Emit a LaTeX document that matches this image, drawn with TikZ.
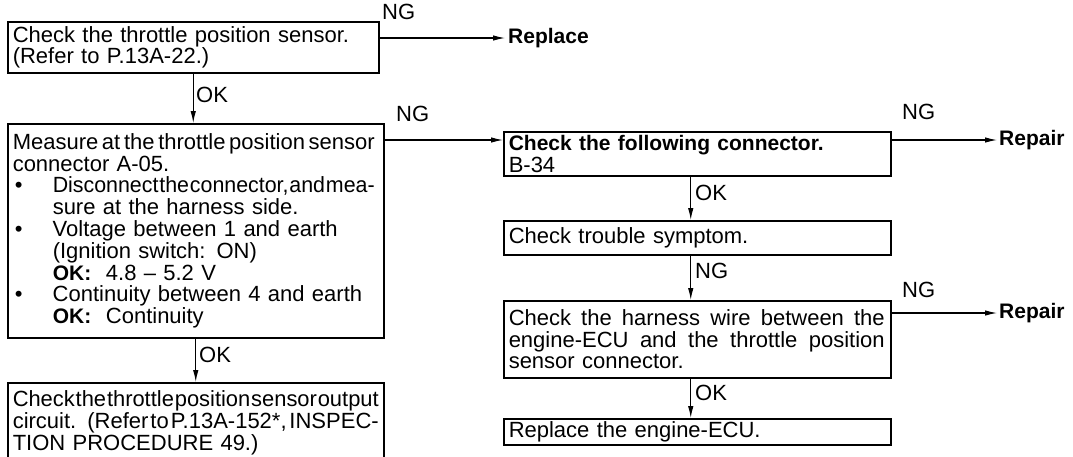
\documentclass[tikz,border=0pt]{standalone}
\usepackage{fontspec}
\usepackage{graphicx}
\setmainfont{Liberation Sans}
\usetikzlibrary{arrows.meta}
\newsavebox\jlbox
% justified line of given width: stretch spaces, or compress if too long
\newcommand{\jl}[2]{\leavevmode\sbox\jlbox{\spaceskip=.04em\relax #2}%
  \ifdim\wd\jlbox>#1\relax\resizebox{#1}{\height}{\usebox\jlbox}%
  \else\hbox to #1{\spaceskip=.278em plus 1fil minus .24em\relax #2}\fi}
\newcommand{\bul}{\makebox[40pt][l]{\hspace{2pt}\textbullet}}
\newcommand{\bfx}{\fontsize{21}{21.5}\selectfont\bfseries}
\begin{document}
\begin{tikzpicture}[x=1pt,y=-1pt,
  every node/.style={font=\fontsize{22}{21.8}\selectfont},
  box/.style={draw,line width=1.5pt,anchor=north west,inner xsep=5pt,inner ysep=0pt,align=left},
  arr/.style={line width=1.1pt,-{Latex[length=12pt,width=5.5pt]}},
  lab/.style={anchor=west,inner sep=1pt}]
\useasboundingbox (0,0) rectangle (1073,456);
\node[box,minimum width=371pt,minimum height=51pt,text width=361pt] (b1) at (7,21)
  {Check the throttle position sensor.\\(Refer to P.13A-22.)};
\node[box,minimum width=376pt,minimum height=214pt,text width=366pt] (b2) at (7,123)
  {\jl{362pt}{Measure at the throttle position sensor}\\
   connector A-05.\\
   \bul\jl{322pt}{Disconnect the connector, and mea-}\\
   \hspace{40pt}sure at the harness side.\\
   \bul Voltage between 1 and earth\\
   \hspace{40pt}(Ignition switch: ON)\\
   \hspace{40pt}{\bfx OK:}\ \ 4.8 -- 5.2 V\\
   \bul Continuity between 4 and earth\\
   \hspace{40pt}{\bfx OK:}\ \ Continuity\\[4pt]};
\node[box,minimum width=376pt,minimum height=80pt,text width=366pt] (b3) at (7,382)
  {\jl{366pt}{Check the throttle position sensor output}\\
   \jl{366pt}{circuit. (Refer to P.13A-152*, INSPEC-}\\
   TION PROCEDURE 49.)\\[7pt]};
\node[box,minimum width=387pt,minimum height=44pt,text width=377pt] (b4) at (503,131)
  {{\bfx Check the following connector.}\\B-34};
\node[box,minimum width=387pt,minimum height=34pt,text width=377pt] (b5) at (503,220)
  {Check trouble symptom.};
\node[box,minimum width=387pt,minimum height=77pt,text width=377pt] (b6) at (503,300)
  {\jl{376pt}{Check the harness wire between the}\\
   \jl{376pt}{engine-ECU and the throttle position}\\
   sensor connector.};
\node[box,minimum width=387pt,minimum height=26pt,text width=377pt] (b7) at (503,418)
  {Replace the engine-ECU.};
\node[lab,inner sep=3pt] (rep0) at (505,38) {\bfx Replace};
\node[lab,inner sep=2pt] (rep1) at (997,140) {\bfx Repair};
\node[lab,inner sep=2pt] (rep2) at (997,313) {\bfx Repair};
\draw[arr] ([yshift=-17pt]b1.north east) -- (rep0.west);
\draw[arr] (b1.south) -- (b1.south |- b2.north);
\draw[arr] (b2.south) -- (b2.south |- b3.north);
\draw[arr] ([yshift=-17pt]b2.north east) -- ([yshift=-9pt]b4.north west);
\draw[arr] ([yshift=-9pt]b4.north east) -- (rep1.west);
\draw[arr] ([xshift=-6.5pt]b4.south) -- ([xshift=-6.5pt]b5.north);
\draw[arr] ([xshift=-6.5pt]b5.south) -- ([xshift=-6.5pt]b6.north);
\draw[arr] ([xshift=-6.5pt]b6.south) -- ([xshift=-6.5pt]b7.north);
\draw[arr] ([yshift=-13pt]b6.north east) -- (rep2.west);
\node[lab] (ng1) at (381,12) {NG};
\node[lab] (ng2) at (395,114) {NG};
\node[lab] (ng3) at (901,112) {NG};
\node[lab] (ng4) at (901,290) {NG};
\node[lab] (ok1) at (195,95) {OK};
\node[lab] (ok2) at (198,355) {OK};
\node[lab] (ok3) at (694,193) {OK};
\node[lab] (ng5) at (694,271) {NG};
\node[lab] (ok4) at (694,393) {OK};
\end{tikzpicture}
\end{document}
